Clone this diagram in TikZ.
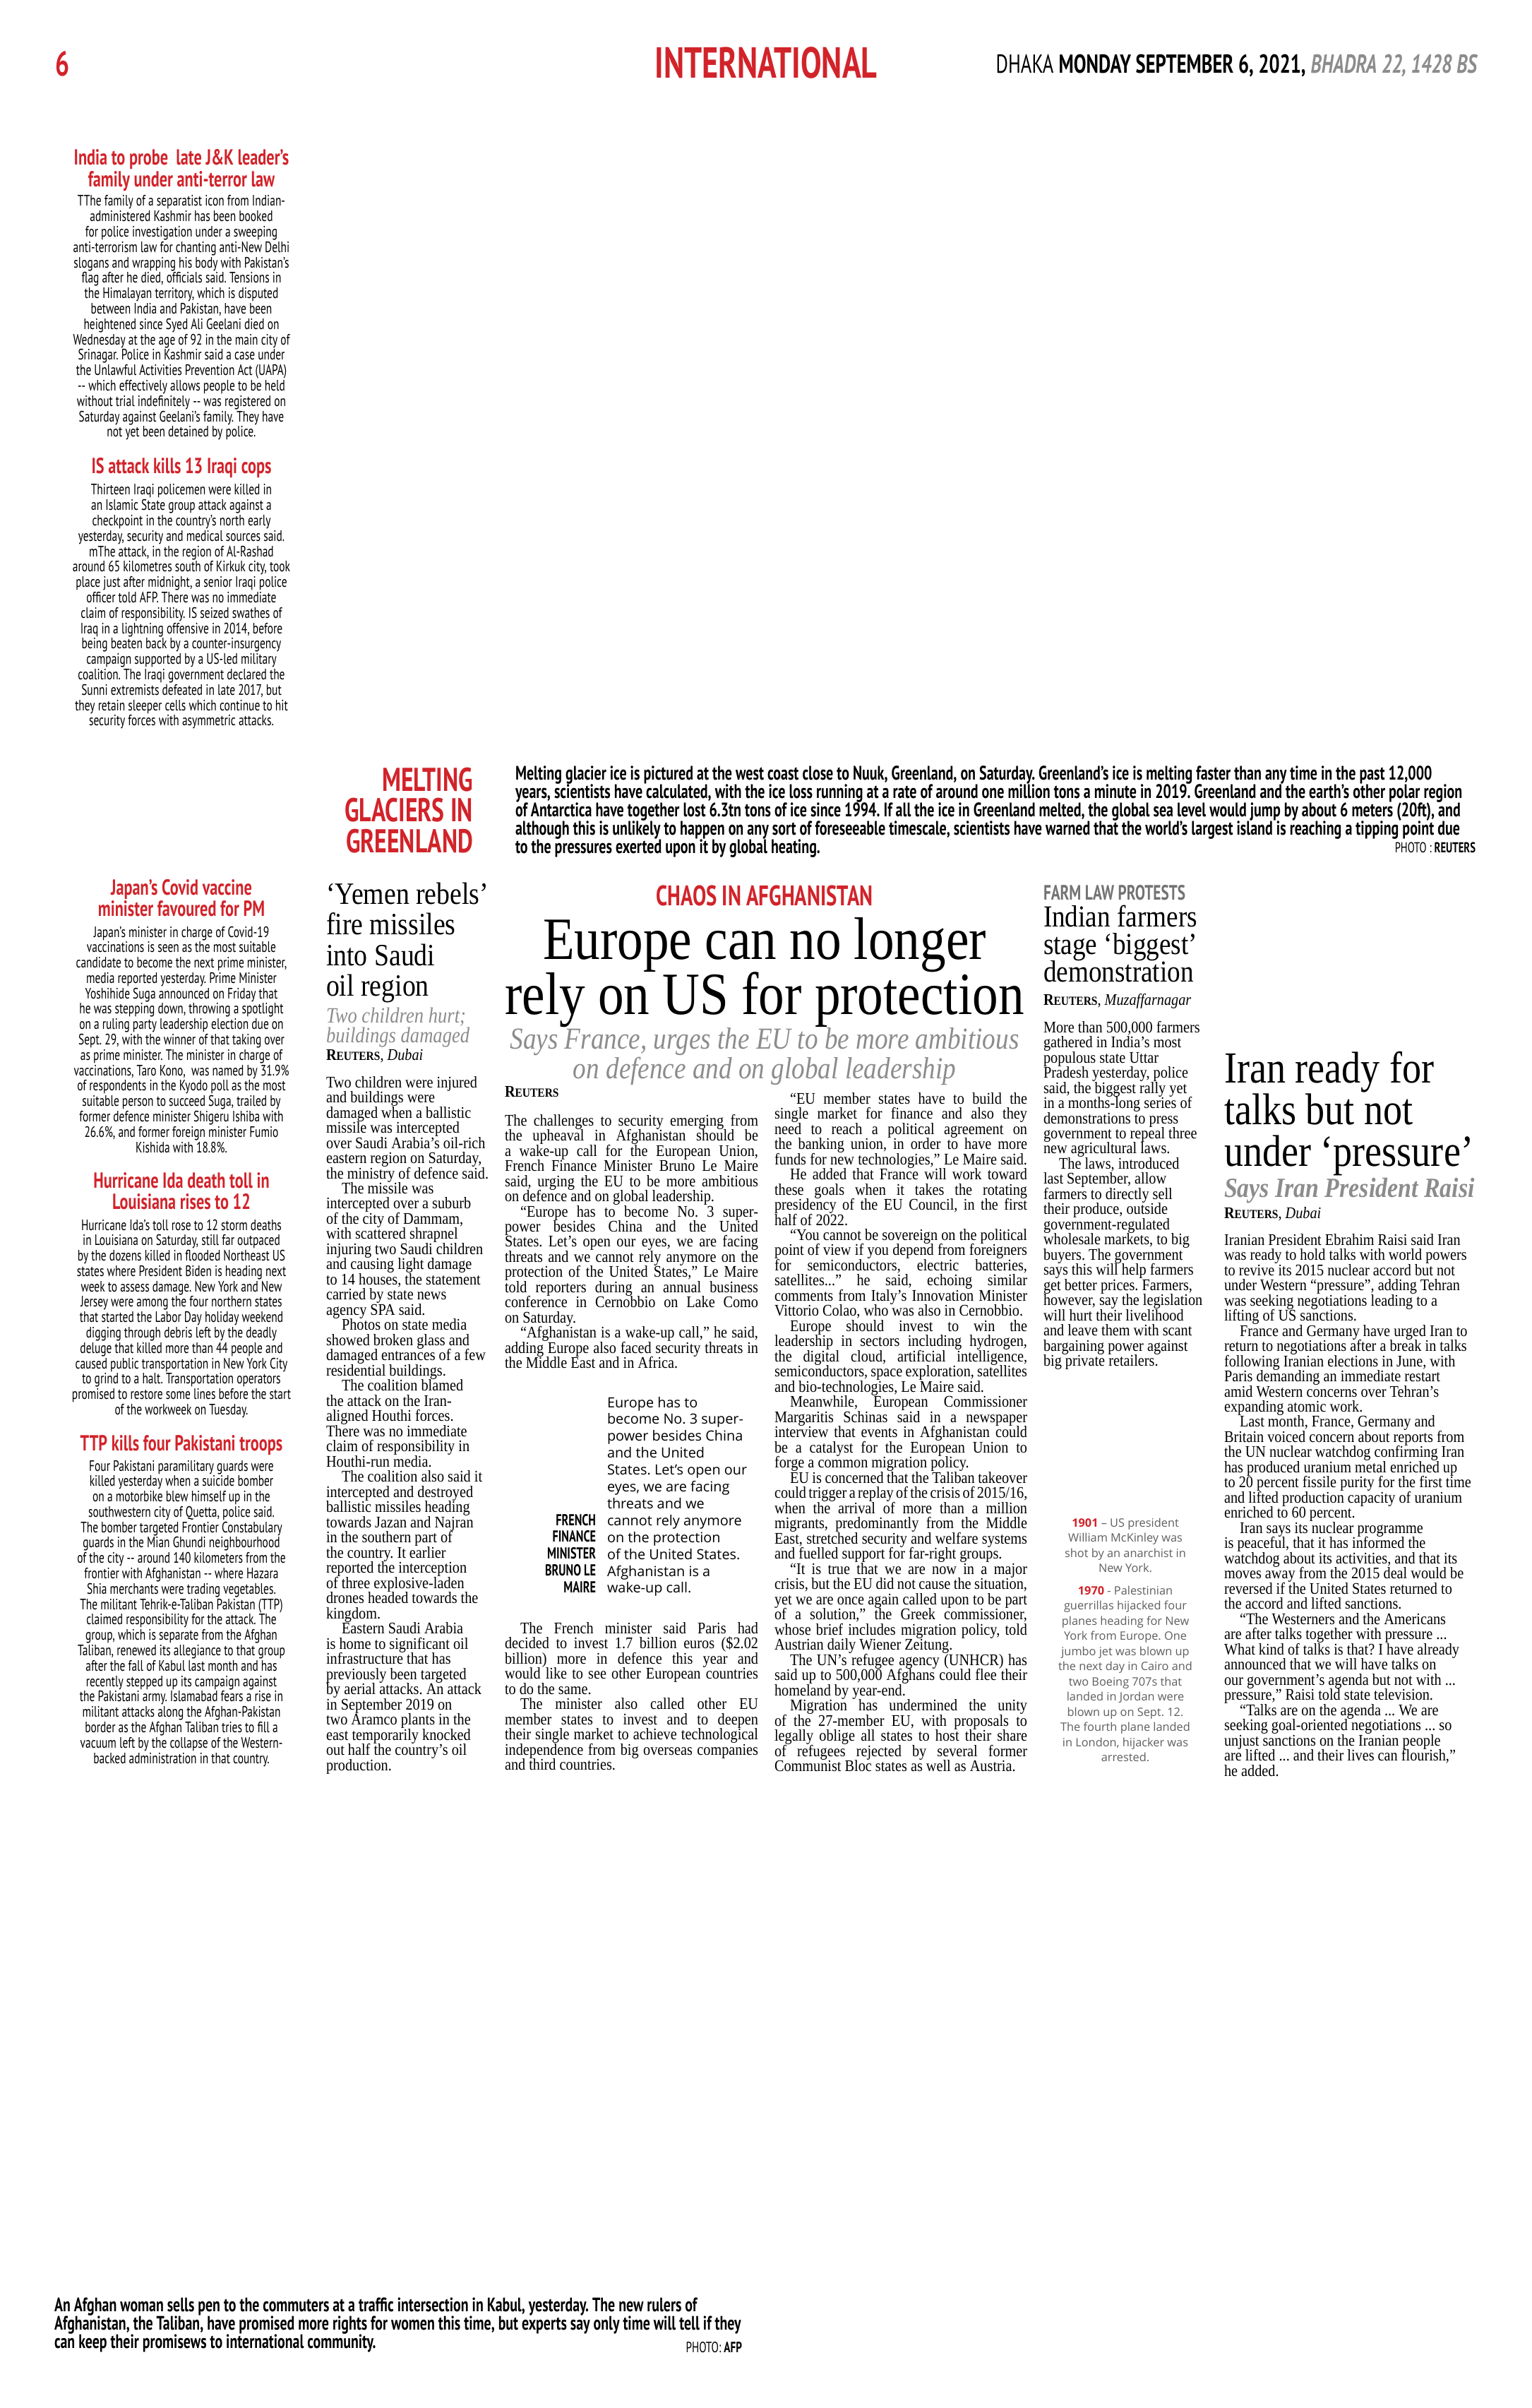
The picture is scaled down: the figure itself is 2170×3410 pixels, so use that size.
\documentclass[tikz,border=0pt]{standalone}
\usepackage{fontspec}
\setmainfont{Liberation Serif}
\newfontfamily\xc[FakeStretch=0.72]{PT Sans}
\newfontfamily\sr[FakeStretch=0.88]{Liberation Serif}
\newfontfamily\hs[FakeStretch=0.86]{Liberation Serif}
\newfontfamily\os{Open Sans}
\definecolor{dsred}{RGB}{210,35,42}
\definecolor{subgray}{RGB}{140,140,140}
\definecolor{tlgray}{RGB}{95,95,95}
\definecolor{kgray}{RGB}{115,115,115}
\newcommand\jl[1]{\hbox to\hsize{#1}}
\newcommand\el[1]{\hbox{#1}}
\newcommand\cl[1]{\hbox to\hsize{\hss#1\hss}}
\newcommand\rl[1]{\hbox to\hsize{\hss#1}}
\newcommand\ind{\hskip2.2mm\relax}
\newcommand\blk[3]{\vtop{\hsize=#1\relax#2\lineskiplimit=-30pt\relax\frenchspacing#3}}
\newcommand\bodyf{\sr\fontsize{6.55}{6.117}\selectfont}
\newcommand\briefh{\xc\bfseries\fontsize{8.8}{8.8}\selectfont}
\newcommand\briefb{\xc\fontsize{6.1}{6.2}\selectfont}
\newcommand\rtr{{\bfseries R\fontsize{5}{6}\selectfont EUTERS}}
\tikzset{tx/.style={inner sep=0pt,outer sep=0pt}}
\begin{document}
\begin{tikzpicture}[x=0.1mm,y=-0.1mm]
\fill[white] (0,0) rectangle (2170,3410);
\useasboundingbox (0,0) rectangle (2170,3410);
% ---------- header
\node[tx,anchor=base west,text=dsred] (pageno) at (78,108) {\xc\bfseries\fontsize{14}{14}\selectfont 6};
\node[tx,anchor=base,text=dsred] (section) at (1085,111) {\xc\bfseries\fontsize{17.5}{17.5}\selectfont INTERNATIONAL};
\node[tx,anchor=base east] (dateline) at (2092,104) {\xc\fontsize{10.5}{11}\selectfont DHAKA \textbf{MONDAY SEPTEMBER 6, 2021,} \textcolor{subgray}{\bfseries\itshape BHADRA 22, 1428 BS}};
% ---------- left briefs
\node[tx,anchor=base,text=dsred] (indiah) at (257,234) {\blk{36mm}{\briefh}{\cl{India to probe\ \ late J\&K leader’s}\cl{family under anti-terror law}}};
\node[tx,anchor=base] (indiab) at (257,292) {\blk{36mm}{\briefb}{%
\cl{TThe family of a separatist icon from Indian-}
\cl{administered Kashmir has been booked}
\cl{for police investigation under a sweeping}
\cl{anti-terrorism law for chanting anti-New Delhi}
\cl{slogans and wrapping his body with Pakistan’s}
\cl{flag after he died, officials said. Tensions in}
\cl{the Himalayan territory, which is disputed}
\cl{between India and Pakistan, have been}
\cl{heightened since Syed Ali Geelani died on}
\cl{Wednesday at the age of 92 in the main city of}
\cl{Srinagar. Police in Kashmir said a case under}
\cl{the Unlawful Activities Prevention Act (UAPA)}
\cl{-{}- which effectively allows people to be held}
\cl{without trial indefinitely -{}- was registered on}
\cl{Saturday against Geelani’s family. They have}
\cl{not yet been detained by police.}}};
\node[tx,anchor=base,text=dsred] (ish) at (257,671) {\blk{36mm}{\briefh}{\cl{IS attack kills 13 Iraqi cops}}};
\node[tx,anchor=base] (isb) at (257,701) {\blk{36mm}{\briefb}{%
\cl{Thirteen Iraqi policemen were killed in}
\cl{an Islamic State group attack against a}
\cl{checkpoint in the country’s north early}
\cl{yesterday, security and medical sources said.}
\cl{mThe attack, in the region of Al-Rashad}
\cl{around 65 kilometres south of Kirkuk city, took}
\cl{place just after midnight, a senior Iraqi police}
\cl{officer told AFP. There was no immediate}
\cl{claim of responsibility. IS seized swathes of}
\cl{Iraq in a lightning offensive in 2014, before}
\cl{being beaten back by a counter-insurgency}
\cl{campaign supported by a US-led military}
\cl{coalition. The Iraqi government declared the}
\cl{Sunni extremists defeated in late 2017, but}
\cl{they retain sleeper cells which continue to hit}
\cl{security forces with asymmetric attacks.}}};
\node[tx,anchor=base,text=dsred] (japanh) at (257,1267) {\blk{36mm}{\briefh}{\cl{Japan’s Covid vaccine}\cl{minister favoured for PM}}};
\node[tx,anchor=base] (japanb) at (257,1327) {\blk{36mm}{\briefb}{%
\cl{Japan’s minister in charge of Covid-19}
\cl{vaccinations is seen as the most suitable}
\cl{candidate to become the next prime minister,}
\cl{media reported yesterday. Prime Minister}
\cl{Yoshihide Suga announced on Friday that}
\cl{he was stepping down, throwing a spotlight}
\cl{on a ruling party leadership election due on}
\cl{Sept. 29, with the winner of that taking over}
\cl{as prime minister. The minister in charge of}
\cl{vaccinations, Taro Kono,\ \ was named by 31.9\%}
\cl{of respondents in the Kyodo poll as the most}
\cl{suitable person to succeed Suga, trailed by}
\cl{former defence minister Shigeru Ishiba with}
\cl{26.6\%, and former foreign minister Fumio}
\cl{Kishida with 18.8\%.}}};
\node[tx,anchor=base,text=dsred] (hurrh) at (257,1682) {\blk{36mm}{\briefh}{\cl{Hurricane Ida death toll in}\cl{Louisiana rises to 12}}};
\node[tx,anchor=base] (hurrb) at (257,1742) {\blk{36mm}{\briefb}{%
\cl{Hurricane Ida’s toll rose to 12 storm deaths}
\cl{in Louisiana on Saturday, still far outpaced}
\cl{by the dozens killed in flooded Northeast US}
\cl{states where President Biden is heading next}
\cl{week to assess damage. New York and New}
\cl{Jersey were among the four northern states}
\cl{that started the Labor Day holiday weekend}
\cl{digging through debris left by the deadly}
\cl{deluge that killed more than 44 people and}
\cl{caused public transportation in New York City}
\cl{to grind to a halt. Transportation operators}
\cl{promised to restore some lines before the start}
\cl{of the workweek on Tuesday.}}};
\node[tx,anchor=base,text=dsred] (ttph) at (257,2054) {\blk{36mm}{\briefh}{\cl{TTP kills four Pakistani troops}}};
\node[tx,anchor=base] (ttpb) at (257,2083) {\blk{36mm}{\briefb}{%
\cl{Four Pakistani paramilitary guards were}
\cl{killed yesterday when a suicide bomber}
\cl{on a motorbike blew himself up in the}
\cl{southwestern city of Quetta, police said.}
\cl{The bomber targeted Frontier Constabulary}
\cl{guards in the Mian Ghundi neighbourhood}
\cl{of the city -{}- around 140 kilometers from the}
\cl{frontier with Afghanistan -{}- where Hazara}
\cl{Shia merchants were trading vegetables.}
\cl{The militant Tehrik-e-Taliban Pakistan (TTP)}
\cl{claimed responsibility for the attack. The}
\cl{group, which is separate from the Afghan}
\cl{Taliban, renewed its allegiance to that group}
\cl{after the fall of Kabul last month and has}
\cl{recently stepped up its campaign against}
\cl{the Pakistani army. Islamabad fears a rise in}
\cl{militant attacks along the Afghan-Pakistan}
\cl{border as the Afghan Taliban tries to fill a}
\cl{vacuum left by the collapse of the Western-}
\cl{backed administration in that country.}}};
% ---------- melting glaciers caption
\node[tx,anchor=base east,text=dsred] (melth) at (670,1120) {\blk{30mm}{\xc\bfseries\fontsize{13.3}{12.4}\selectfont}{\rl{MELTING}\rl{GLACIERS IN}\rl{GREENLAND}}};
\node[tx,anchor=base west] (meltc) at (730,1104) {\blk{140mm}{\xc\bfseries\fontsize{7.9}{7.4}\selectfont}{%
\el{Melting glacier ice is pictured at the west coast close to Nuuk, Greenland, on Saturday. Greenland’s ice is melting faster than any time in the past 12,000}
\el{years, scientists have calculated, with the ice loss running at a rate of around one million tons a minute in 2019. Greenland and the earth’s other polar region}
\el{of Antarctica have together lost 6.3tn tons of ice since 1994. If all the ice in Greenland melted, the global sea level would jump by about 6 meters (20ft), and}
\el{although this is unlikely to happen on any sort of foreseeable timescale, scientists have warned that the world’s largest island is reaching a tipping point due}
\el{to the pressures exerted upon it by global heating.}}};
\node[tx,anchor=base east] (meltp) at (2090,1207) {\xc\fontsize{5.8}{6}\selectfont PHOTO : \textbf{REUTERS}};
% ---------- Yemen
\node[tx,anchor=base west] (yemh) at (462,1280) {\blk{26mm}{\hs\fontsize{12.5}{12.4}\selectfont}{\el{‘Yemen rebels’}\el{fire missiles}\el{into Saudi}\el{oil region}}};
\node[tx,anchor=base west,text=subgray] (yems) at (462,1448) {\blk{26mm}{\hs\itshape\fontsize{8.8}{8}\selectfont}{\el{Two children hurt;}\el{buildings damaged}}};
\node[tx,anchor=base west] (yemr) at (462,1501) {\sr\fontsize{6.55}{6.117}\selectfont\rtr, \textit{Dubai}};
\node[tx,anchor=base west] (yemb) at (462,1540) {\blk{26mm}{\bodyf}{%
\el{Two children were injured}
\el{and buildings were}
\el{damaged when a ballistic}
\el{missile was intercepted}
\el{over Saudi Arabia’s oil-rich}
\el{eastern region on Saturday,}
\el{the ministry of defence said.}
\el{\ind The missile was}
\el{intercepted over a suburb}
\el{of the city of Dammam,}
\el{with scattered shrapnel}
\el{injuring two Saudi children}
\el{and causing light damage}
\el{to 14 houses, the statement}
\el{carried by state news}
\el{agency SPA said.}
\el{\ind Photos on state media}
\el{showed broken glass and}
\el{damaged entrances of a few}
\el{residential buildings.}
\el{\ind The coalition blamed}
\el{the attack on the Iran-}
\el{aligned Houthi forces.}
\el{There was no immediate}
\el{claim of responsibility in}
\el{Houthi-run media.}
\el{\ind The coalition also said it}
\el{intercepted and destroyed}
\el{ballistic missiles heading}
\el{towards Jazan and Najran}
\el{in the southern part of}
\el{the country. It earlier}
\el{reported the interception}
\el{of three explosive-laden}
\el{drones headed towards the}
\el{kingdom.}
\el{\ind Eastern Saudi Arabia}
\el{is home to significant oil}
\el{infrastructure that has}
\el{previously been targeted}
\el{by aerial attacks. An attack}
\el{in September 2019 on}
\el{two Aramco plants in the}
\el{east temporarily knocked}
\el{out half the country’s oil}
\el{production.}}};
% ---------- main article
\node[tx,anchor=base,text=dsred] (chaos) at (1083,1282) {\xc\bfseries\fontsize{11.4}{11.4}\selectfont CHAOS IN AFGHANISTAN};
\node[tx,anchor=base] (mainh) at (1083,1358) {\blk{80mm}{\hs\fontsize{24.2}{22.2}\selectfont}{\cl{Europe can no longer}\cl{rely on US for protection}}};
\node[tx,anchor=base,text=subgray] (mains) at (1083,1485) {\blk{80mm}{\hs\itshape\fontsize{12.3}{12.2}\selectfont}{\cl{Says France, urges the EU to be more ambitious}\cl{on defence and on global leadership}}};
\node[tx,anchor=base west] (mainr) at (715,1553) {\sr\fontsize{6.55}{6.117}\selectfont\rtr};
\node[tx,anchor=base west] (col1a) at (715,1594) {\blk{35.9mm}{\bodyf}{%
\jl{The challenges to security emerging from}
\jl{the upheaval in Afghanistan should be}
\jl{a wake-up call for the European Union,}
\jl{French Finance Minister Bruno Le Maire}
\jl{said, urging the EU to be more ambitious}
\el{on defence and on global leadership.}
\jl{\ind “Europe has to become No. 3 super-}
\jl{power besides China and the United}
\jl{States. Let’s open our eyes, we are facing}
\jl{threats and we cannot rely anymore on the}
\jl{protection of the United States,” Le Maire}
\jl{told reporters during an annual business}
\jl{conference in Cernobbio on Lake Como}
\el{on Saturday.}
\jl{\ind “Afghanistan is a wake-up call,” he said,}
\jl{adding Europe also faced security threats in}
\el{the Middle East and in Africa.}}};
\node[tx,anchor=base west] (quote) at (860,1993) {\blk{60mm}{\os\fontsize{5.65}{6.8}\selectfont}{%
\el{Europe has to}
\el{become No. 3 super-}
\el{power besides China}
\el{and the United}
\el{States. Let’s open our}
\el{eyes, we are facing}
\el{threats and we}
\el{cannot rely anymore}
\el{on the protection}
\el{of the United States.}
\el{Afghanistan is a}
\el{wake-up call.}}};
\node[tx,anchor=base east] (quotelab) at (844,2160) {\blk{30mm}{\xc\bfseries\fontsize{6.4}{6.8}\selectfont}{\rl{FRENCH}\rl{FINANCE}\rl{MINISTER}\rl{BRUNO LE}\rl{MAIRE}}};
\node[tx,anchor=base west] (col1b) at (715,2313) {\blk{35.9mm}{\bodyf}{%
\jl{\ind The French minister said Paris had}
\jl{decided to invest 1.7 billion euros (\$2.02}
\jl{billion) more in defence this year and}
\jl{would like to see other European countries}
\el{to do the same.}
\jl{\ind The minister also called other EU}
\jl{member states to invest and to deepen}
\jl{their single market to achieve technological}
\jl{independence from big overseas companies}
\el{and third countries.}}};
\node[tx,anchor=base west] (col2) at (1097,1563) {\blk{35.8mm}{\bodyf}{%
\jl{\ind “EU member states have to build the}
\jl{single market for finance and also they}
\jl{need to reach a political agreement on}
\jl{the banking union, in order to have more}
\jl{funds for new technologies,” Le Maire said.}
\jl{\ind He added that France will work toward}
\jl{these goals when it takes the rotating}
\jl{presidency of the EU Council, in the first}
\el{half of 2022.}
\jl{\ind “You cannot be sovereign on the political}
\jl{point of view if you depend from foreigners}
\jl{for semiconductors, electric batteries,}
\jl{satellites...” he said, echoing similar}
\jl{comments from Italy’s Innovation Minister}
\el{Vittorio Colao, who was also in Cernobbio.}
\jl{\ind Europe should invest to win the}
\jl{leadership in sectors including hydrogen,}
\jl{the digital cloud, artificial intelligence,}
\jl{semiconductors, space exploration, satellites}
\el{and bio-technologies, Le Maire said.}
\jl{\ind Meanwhile, European Commissioner}
\jl{Margaritis Schinas said in a newspaper}
\jl{interview that events in Afghanistan could}
\jl{be a catalyst for the European Union to}
\el{forge a common migration policy.}
\jl{\ind EU is concerned that the Taliban takeover}
\jl{could trigger a replay of the crisis of 2015/16,}
\jl{when the arrival of more than a million}
\jl{migrants, predominantly from the Middle}
\jl{East, stretched security and welfare systems}
\el{and fuelled support for far-right groups.}
\jl{\ind “It is true that we are now in a major}
\jl{crisis, but the EU did not cause the situation,}
\jl{yet we are once again called upon to be part}
\jl{of a solution,” the Greek commissioner,}
\jl{whose brief includes migration policy, told}
\el{Austrian daily Wiener Zeitung.}
\jl{\ind The UN’s refugee agency (UNHCR) has}
\jl{said up to 500,000 Afghans could flee their}
\el{homeland by year-end.}
\jl{\ind Migration has undermined the unity}
\jl{of the 27-member EU, with proposals to}
\jl{legally oblige all states to host their share}
\jl{of refugees rejected by several former}
\el{Communist Bloc states as well as Austria.}}};
% ---------- farm law
\node[tx,anchor=base west,text=kgray] (farmk) at (1478,1274) {\xc\bfseries\fontsize{8.4}{9}\selectfont FARM LAW PROTESTS};
\node[tx,anchor=base west] (farmh) at (1478,1312) {\blk{26mm}{\hs\fontsize{12.3}{11.1}\selectfont}{\el{Indian farmers}\el{stage ‘biggest’}\el{demonstration}}};
\node[tx,anchor=base west] (farmr) at (1478,1423) {\sr\fontsize{6.55}{6.117}\selectfont\rtr, \textit{Muzaffarnagar}};
\node[tx,anchor=base west] (farmb) at (1478,1462) {\blk{26mm}{\bodyf}{%
\el{More than 500,000 farmers}
\el{gathered in India’s most}
\el{populous state Uttar}
\el{Pradesh yesterday, police}
\el{said, the biggest rally yet}
\el{in a months-long series of}
\el{demonstrations to press}
\el{government to repeal three}
\el{new agricultural laws.}
\el{\ind The laws, introduced}
\el{last September, allow}
\el{farmers to directly sell}
\el{their produce, outside}
\el{government-regulated}
\el{wholesale markets, to big}
\el{buyers. The government}
\el{says this will help farmers}
\el{get better prices. Farmers,}
\el{however, say the legislation}
\el{will hurt their livelihood}
\el{and leave them with scant}
\el{bargaining power against}
\el{big private retailers.}}};
% ---------- timeline
\node[tx,anchor=base,text=tlgray] (tl1) at (1594,2162) {\blk{30mm}{\os\fontsize{4.65}{6.12}\selectfont}{%
\cl{\textcolor{dsred}{\bfseries 1901} – US president}
\cl{William McKinley was}
\cl{shot by an anarchist in}
\cl{New York.}}};
\node[tx,anchor=base,text=tlgray] (tl2) at (1594,2258) {\blk{30mm}{\os\fontsize{4.65}{6.12}\selectfont}{%
\cl{\textcolor{dsred}{\bfseries 1970} - Palestinian}
\cl{guerrillas hijacked four}
\cl{planes heading for New}
\cl{York from Europe. One}
\cl{jumbo jet was blown up}
\cl{the next day in Cairo and}
\cl{two Boeing 707s that}
\cl{landed in Jordan were}
\cl{blown up on Sept. 12.}
\cl{The fourth plane landed}
\cl{in London, hijacker was}
\cl{arrested.}}};
% ---------- Iran
\node[tx,anchor=base west] (iranh) at (1734,1533) {\blk{40mm}{\hs\fontsize{17.9}{16.8}\selectfont}{\el{Iran ready for}\el{talks but not}\el{under ‘pressure’}}};
\node[tx,anchor=base west,text=subgray] (irans) at (1734,1695) {\hs\bfseries\itshape\fontsize{11.2}{12}\selectfont Says Iran President Raisi};
\node[tx,anchor=base west] (iranr) at (1734,1725) {\sr\fontsize{6.55}{6.117}\selectfont\rtr, \textit{Dubai}};
\node[tx,anchor=base west] (iranb) at (1734,1763) {\blk{36mm}{\bodyf}{%
\el{Iranian President Ebrahim Raisi said Iran}
\el{was ready to hold talks with world powers}
\el{to revive its 2015 nuclear accord but not}
\el{under Western “pressure”, adding Tehran}
\el{was seeking negotiations leading to a}
\el{lifting of US sanctions.}
\el{\ind France and Germany have urged Iran to}
\el{return to negotiations after a break in talks}
\el{following Iranian elections in June, with}
\el{Paris demanding an immediate restart}
\el{amid Western concerns over Tehran’s}
\el{expanding atomic work.}
\el{\ind Last month, France, Germany and}
\el{Britain voiced concern about reports from}
\el{the UN nuclear watchdog confirming Iran}
\el{has produced uranium metal enriched up}
\el{to 20 percent fissile purity for the first time}
\el{and lifted production capacity of uranium}
\el{enriched to 60 percent.}
\el{\ind Iran says its nuclear programme}
\el{is peaceful, that it has informed the}
\el{watchdog about its activities, and that its}
\el{moves away from the 2015 deal would be}
\el{reversed if the United States returned to}
\el{the accord and lifted sanctions.}
\el{\ind “The Westerners and the Americans}
\el{are after talks together with pressure ...}
\el{What kind of talks is that? I have already}
\el{announced that we will have talks on}
\el{our government’s agenda but not with ...}
\el{pressure,” Raisi told state television.}
\el{\ind “Talks are on the agenda ... We are}
\el{seeking goal-oriented negotiations ... so}
\el{unjust sanctions on the Iranian people}
\el{are lifted ... and their lives can flourish,”}
\el{he added.}}};
% ---------- bottom caption
\node[tx,anchor=base west] (botc) at (77,3273) {\blk{110mm}{\xc\bfseries\fontsize{7.85}{7.5}\selectfont}{%
\el{An Afghan woman sells pen to the commuters at a traffic intersection in Kabul, yesterday. The new rulers of}
\el{Afghanistan, the Taliban, have promised more rights for women this time, but experts say only time will tell if they}
\el{can keep their promisews to international community.}}};
\node[tx,anchor=base east] (botp) at (1051,3331) {\xc\fontsize{6}{6}\selectfont PHOTO: \textbf{AFP}};
\end{tikzpicture}
\end{document}
